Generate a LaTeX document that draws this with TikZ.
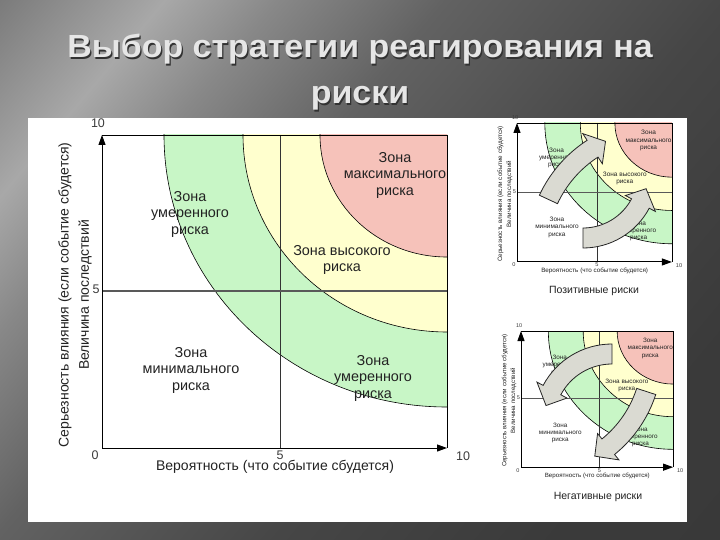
\documentclass[tikz,border=0pt]{standalone}
\usepackage{fontspec}
\setmainfont{Liberation Sans}
\usetikzlibrary{arrows.meta}
\definecolor{zgreen}{RGB}{200,246,198}
\definecolor{zyellow}{RGB}{255,255,206}
\definecolor{zred}{RGB}{246,194,186}
\definecolor{arrfill}{RGB}{218,218,210}
\definecolor{txt}{RGB}{34,34,34}
\definecolor{ticktxt}{RGB}{60,60,60}
\definecolor{titlec}{RGB}{230,230,230}
\definecolor{titlesh}{RGB}{50,50,50}
\definecolor{bgA}{RGB}{112,112,112}
\definecolor{bgB}{RGB}{122,122,122}
\definecolor{bgC}{RGB}{168,168,168}
\definecolor{bgD}{RGB}{136,136,136}
\definecolor{bgE}{RGB}{98,98,98}
\definecolor{bgF}{RGB}{70,70,70}
\definecolor{bgG}{RGB}{58,58,58}
\definecolor{bgH}{RGB}{54,54,54}
\pgfdeclarehorizontalshading{bgsh}{100bp}{color(0bp)=(bgA); color(29bp)=(bgB); color(35bp)=(bgC); color(39bp)=(bgD); color(45bp)=(bgE); color(55bp)=(bgF); color(65bp)=(bgG); color(100bp)=(bgH)}
\tikzset{
  zone/.style={align=center, font=\fontsize{14.4}{16.5}\selectfont, text=txt, inner sep=0pt},
  tick/.style={font=\fontsize{12.5}{14}\selectfont, text=ticktxt, inner sep=0pt},
  axlabel/.style={font=\fontsize{14}{16}\selectfont, text=txt, inner sep=0pt},
  ring/.style={draw=black, line width=0.6pt},
  gridv/.style={draw=black!80, line width=0.7pt},
  gridh/.style={draw=black!65, line width=1.1pt},
  frameline/.style={draw=black, line width=0.8pt},
  axisline/.style={draw=black, line width=1pt, -{Triangle[length=10pt,width=7pt]}},
  bigarrow/.style={fill=arrfill, draw=black!85, line width=0.8pt, line join=miter},
  subtitle/.style={font=\fontsize{10.5}{12}\selectfont, text=txt, inner sep=0pt},
  titletext/.style={font=\fontsize{32}{36}\bfseries\selectfont, inner sep=0pt, anchor=base, xscale=1.06}
}
\newcommand\riskchart[1]{%
  \begin{scope}
    \clip (0,0) rectangle (345,313);
    \fill[zgreen] (345,0) ellipse [x radius=283, y radius=272];
    \fill[zyellow] (345,0) ellipse [x radius=204, y radius=197];
    \fill[zred] (345,0) ellipse [x radius=127, y radius=122];
    \draw[ring] (345,0) ellipse [x radius=283, y radius=272];
    \draw[ring] (345,0) ellipse [x radius=204, y radius=197];
    \draw[ring] (345,0) ellipse [x radius=127, y radius=122];
  \end{scope}
  \draw[gridv] (178,0) -- (178,313);
  \draw[gridh] (0,156) -- (345,156);
  \draw[frameline] (0,0) -- (345,0) -- (345,313);
  \draw[axisline] (0,313) -- (0,0);
  \draw[axisline] (0,313) -- (345,313);
  \node[zone] (#1-mod1) at (88,79) {Зона\\умеренного\\риска};
  \node[zone] (#1-max) at (293,40) {Зона\\максимального\\риска};
  \node[zone] (#1-high) at (240,125) {Зона высокого\\риска};
  \node[zone] (#1-min) at (89,235) {Зона\\минимального\\риска};
  \node[zone] (#1-mod2) at (271,243) {Зона\\умеренного\\риска};
  \node[tick] (#1-t10y) at (-4,-12) {10};
  \node[tick] (#1-t5y) at (-6,154) {5};
  \node[tick] (#1-t0) at (-7,320) {0};
  \node[tick] (#1-t5x) at (178,320) {5};
  \node[tick] (#1-t10x) at (361,321) {10};
  \node[axlabel] (#1-xl) at (173,332) {Вероятность (что событие сбудется)};
  \node[axlabel, rotate=90] (#1-yl1) at (-37,160) {Серьезность влияния (если событие сбудется)};
  \node[axlabel, rotate=90] (#1-yl2) at (-17,160) {Величина последствий};
}
% cx, cy, R, start angle, end angle, half width, head half width, tip angle
\newcommand\fatarrow[8]{%
  \begin{scope}[shift={(#1,#2)}]
    \filldraw[bigarrow] ({#4}:{#3+#6}) arc[start angle={#4}, end angle={#5}, radius={#3+#6}]
      -- ({#5}:{#3+#7}) -- ({#8}:{#3}) -- ({#5}:{#3-#7}) -- ({#5}:{#3-#6})
      arc[start angle={#5}, end angle={#4}, radius={#3-#6}] -- cycle;
  \end{scope}}
\begin{document}
\begin{tikzpicture}[x=1pt,y=-1pt]
\useasboundingbox (0,0) rectangle (720,540);
\begin{scope}
  \clip (0,0) rectangle (720,540);
  \shade[shading=bgsh, shading angle=-40] (-180,-270) rectangle (900,810);
\end{scope}
% title
\node[titletext, text=titlesh] (t1s) at (361.2,59.2) {Выбор стратегии реагирования на};
\node[titletext, text=titlec] (t1) at (360,58) {Выбор стратегии реагирования на};
\node[titletext, text=titlesh] (t2s) at (361.2,105.2) {риски};
\node[titletext, text=titlec] (t2) at (360,104) {риски};
% white panel
\fill[white] (28,118) rectangle (687,522);
% main chart
\begin{scope}[shift={(102,135)}]
  \riskchart{m}
\end{scope}
% small charts
\begin{scope}[shift={(517,123)}, xscale=0.449, yscale=0.444, transform shape]
  \riskchart{p}
\end{scope}
\begin{scope}[shift={(521,331)}, xscale=0.441, yscale=0.435, transform shape]
  \riskchart{n}
\end{scope}
% curved arrows
\fatarrow{659}{251}{122}{205}{237}{10}{18}{244}
\fatarrow{583}{173}{65}{90}{28}{10}{17}{14}
\fatarrow{612}{422}{68}{270}{208}{10}{17}{194}
\fatarrow{534}{355}{118}{18}{51}{10}{17}{59}
% subtitles
\node[subtitle] (pos) at (594,291) {Позитивные риски};
\node[subtitle] (neg) at (598,497) {Негативные риски};
\end{tikzpicture}
\end{document}
